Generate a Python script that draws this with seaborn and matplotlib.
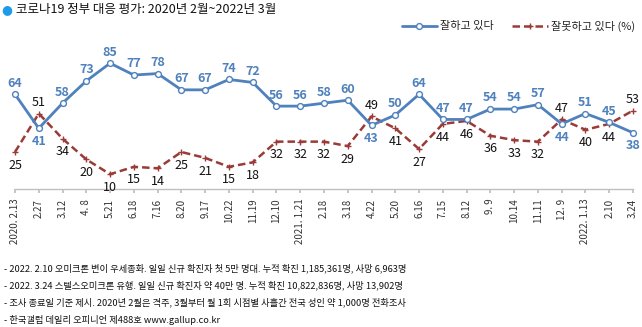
import matplotlib
matplotlib.use("Agg")
import matplotlib.pyplot as plt
import seaborn as sns
import numpy as np
import pandas as pd

dates = ["2020. 2.13", "2.27", "3.12", "4. 8", "5.21", "6.18", "7.16", "8.20", "9.17",
         "10.22", "11.19", "12.10", "2021. 1.21", "2.18", "3.18", "4.22", "5.20", "6.16",
         "7.15", "8.12", "9. 9", "10.14", "11.11", "12. 9", "2022. 1.13", "2.10", "3.24"]
good = [64, 41, 58, 73, 85, 77, 78, 67, 67, 74, 72, 56, 56, 58, 60, 43, 50, 64,
        47, 47, 54, 54, 57, 44, 51, 45, 38]
bad = [25, 51, 34, 20, 10, 15, 14, 25, 21, 15, 18, 32, 32, 32, 29, 49, 41, 27,
       44, 46, 36, 33, 32, 47, 40, 44, 53]
series_names = ["잘하고 있다", "잘못하고 있다 (%)"]
title = "코로나19 정부 대응 평가: 2020년 2월~2022년 3월"
notes = [
    "- 2022. 2.10 오미크론 변이 우세종화. 일일 신규 확진자 첫 5만 명대. 누적 확진 1,185,361명, 사망 6,963명",
    "- 2022. 3.24 스텔스오미크론 유행. 일일 신규 확진자 약 40만 명. 누적 확진 10,822,836명, 사망 13,902명",
    "- 조사 종료일 기준 제시. 2020년 2월은 격주, 3월부터 월 1회 시점별 사흘간 전국 성인 약 1,000명 전화조사",
    "- 한국갤럽 데일리 오피니언 제488호 www.gallup.co.kr",
]

sns.set_theme(style="white")
plt.rcParams['font.family'] = ['Noto Sans CJK KR', 'DejaVu Sans']

BLUE = "#4F81BD"
RED = "#9B3B38"

fig = plt.figure(figsize=(6.42, 3.27), dpi=100)
ax = fig.add_axes([15/642, 138/327, 618/642, 148/327])

df = pd.DataFrame({"idx": np.arange(len(dates)), "good": good, "bad": bad})

sns.lineplot(data=df, x="idx", y="good", ax=ax, color=BLUE, lw=2, marker="o",
             markersize=4.2, markerfacecolor="white", markeredgecolor=BLUE,
             markeredgewidth=1.0, clip_on=False, label=series_names[0], zorder=3)
sns.lineplot(data=df, x="idx", y="bad", ax=ax, color=RED, lw=1.8, linestyle=(0, (3, 1.6)),
             marker="+", markersize=5, markeredgewidth=1.0, markeredgecolor=RED,
             clip_on=False, label=series_names[1], zorder=2)

for i, (g, b) in enumerate(zip(good, bad)):
    if g >= b:
        ax.annotate(str(g), (i, g), xytext=(0, 8), textcoords="offset points",
                    ha="center", va="center", color=BLUE, fontsize=9, fontweight="bold")
        ax.annotate(str(b), (i, b), xytext=(0, -9.5), textcoords="offset points",
                    ha="center", va="center", color="#111111", fontsize=9)
    else:
        ax.annotate(str(g), (i, g), xytext=(0, -9.5), textcoords="offset points",
                    ha="center", va="center", color=BLUE, fontsize=9, fontweight="bold")
        ax.annotate(str(b), (i, b), xytext=(0, 8), textcoords="offset points",
                    ha="center", va="center", color="#111111", fontsize=9)

ax.set_xlim(0, len(dates) - 1)
ax.set_ylim(0, 100)
ax.set_yticks([])
ax.set_xticks(range(len(dates)))
ax.set_xticklabels(dates, rotation=90, fontsize=7, color="#333333", va="top")
ax.tick_params(axis="x", length=3, color="#BFBFBF", pad=4, bottom=True)
for s in ["top", "right", "left"]:
    ax.spines[s].set_visible(False)
ax.spines["bottom"].set_color("#BFBFBF")
ax.spines["bottom"].set_linewidth(1)
ax.set_xlabel("")
ax.set_ylabel("")

leg = ax.legend(loc="center right", bbox_to_anchor=(645/642, 1 - 26/327),
                bbox_transform=fig.transFigure, ncol=2, frameon=False, fontsize=8,
                handlelength=3.2, columnspacing=1.6, handletextpad=0.3)

fig.text(1/642, 1 - 10/327, "●", color="#1E9BE8", fontsize=9, va="center", ha="left",
         family=["DejaVu Sans"])
fig.text(16/642, 1 - 10/327, title, fontsize=9, va="center", ha="left", color="#111111")

for k, line in enumerate(notes):
    fig.text(4/642, 1 - (268 + 17.3*k)/327, line, fontsize=6.7, va="center", ha="left",
             color="#111111")

fig.savefig("out.png", dpi=100)
